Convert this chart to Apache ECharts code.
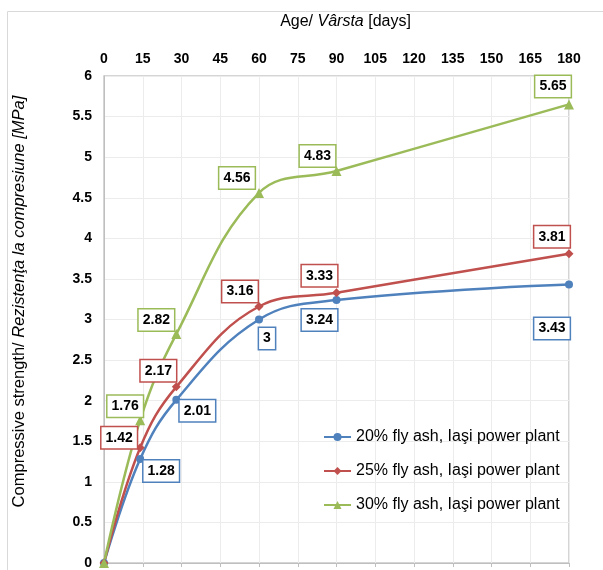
<!DOCTYPE html>
<html><head><meta charset="utf-8">
<script src="https://cdn.jsdelivr.net/npm/echarts@6/dist/echarts.min.js"></script>
<style>html,body{margin:0;padding:0;background:#fff}#c{width:603px;height:570px}</style>
</head><body><div id="c"></div>
<script>
const days = [0, 14, 28, 60, 90, 180];
const xTicks = [0, 15, 30, 45, 60, 75, 90, 105, 120, 135, 150, 165, 180];
const s20 = [0, 1.28, 2.01, 3, 3.24, 3.43];
const s25 = [0, 1.42, 2.17, 3.16, 3.33, 3.81];
const s30 = [0, 1.76, 2.82, 4.56, 4.83, 5.65];
const names = ['20% fly ash, Iaşi power plant', '25% fly ash, Iaşi power plant', '30% fly ash, Iaşi power plant'];

// label placement (style only)
const off20 = [[0,0],[21,12],[21,11],[8,19],[-17,20],[-17,44]];
const off25 = [[0,0],[-21,-10],[-18,-16],[-19,-15],[-17,-17],[-17,-17]];
const off30 = [[0,0],[-15,-14],[-20,-14],[-22,-15],[-19,-15],[-16,-18]];

const colors = ['#4F81BD', '#C0504D', '#9BBB59'];
const FONT = 'Liberation Sans, Arial, sans-serif';

function mk(name, vals, offs, color, symbol, size) {
  return {
    name: name, type: 'line', smooth: 0.4, clip: false,
    symbol: symbol, symbolSize: size,
    lineStyle: {color: color, width: 2.5},
    itemStyle: {color: color},
    data: days.map((d, i) => ({
      value: [d, vals[i]],
      label: {show: i > 0, position: 'inside', offset: offs[i]}
    })),
    label: {
      formatter: p => String(p.value[1]),
      color: '#000', fontFamily: FONT, fontSize: 14, fontWeight: 'bold',
      backgroundColor: '#fff', borderColor: color, borderWidth: 1.5,
      padding: [4, 4, 3, 4]
    },
    z: 3
  };
}

const chart = echarts.init(document.getElementById('c'), null, {renderer: 'canvas'});
chart.setOption({
  animation: false,
  color: colors,
  graphic: [{type: 'rect', shape: {x: 7.5, y: 11.5, width: 700, height: 700},
    style: {fill: 'none', stroke: '#d9d9d9', lineWidth: 1}, z: -10}],
  grid: {left: 104, top: 76, right: 34, bottom: 6, show: true, borderColor: '#c8c8c8', borderWidth: 1.5, backgroundColor: 'transparent'},
  legend: {
    orient: 'vertical', left: 323, top: 429, padding: 0, itemGap: 18, itemWidth: 27, itemHeight: 10,
    textStyle: {fontFamily: FONT, fontSize: 16, color: '#000'},
    data: names
  },
  xAxis: {
    type: 'value', position: 'top', min: 0, max: 180, interval: 15,
    name: '{n|Age/ }{i|Vârsta}{n| [days]}', nameLocation: 'middle', nameGap: 46,
    nameTextStyle: {padding: [0, 0, 0, 18], rich: {n: {fontFamily: FONT, fontSize: 16, color: '#000'}, i: {fontFamily: FONT, fontSize: 16, fontStyle: 'italic', color: '#000'}}},
    axisLine: {show: true, lineStyle: {color: '#bfbfbf', width: 1}},
    axisTick: {show: true, inside: true, length: 4, lineStyle: {color: '#bfbfbf'}},
    axisLabel: {fontFamily: FONT, fontSize: 14, fontWeight: 'bold', color: '#000', margin: 10,
      customValues: xTicks},
    splitLine: {show: true, lineStyle: {color: '#ececec', width: 1}}
  },
  yAxis: {
    type: 'value', min: 0, max: 6, interval: 0.5,
    name: '{n|Compressive strength/ }{i|Rezistenţa la compresiune [MPa]}', nameLocation: 'middle', nameGap: 76, nameRotate: 90,
    nameTextStyle: {padding: [0, 0, 0, 36], rich: {n: {fontFamily: FONT, fontSize: 16.5, color: '#000'}, i: {fontFamily: FONT, fontSize: 16.5, fontStyle: 'italic', color: '#000'}}},
    axisLine: {show: true, lineStyle: {color: '#bfbfbf', width: 1}},
    axisTick: {show: false},
    axisLabel: {fontFamily: FONT, fontSize: 14, fontWeight: 'bold', color: '#000', margin: 12},
    splitLine: {show: true, lineStyle: {color: '#ececec', width: 1}}
  },
  series: [
    mk(names[0], s20, off20, colors[0], 'circle', 8),
    mk(names[1], s25, off25, colors[1], 'diamond', 9),
    mk(names[2], s30, off30, colors[2], 'triangle', 10)
  ]
});
</script></body></html>
